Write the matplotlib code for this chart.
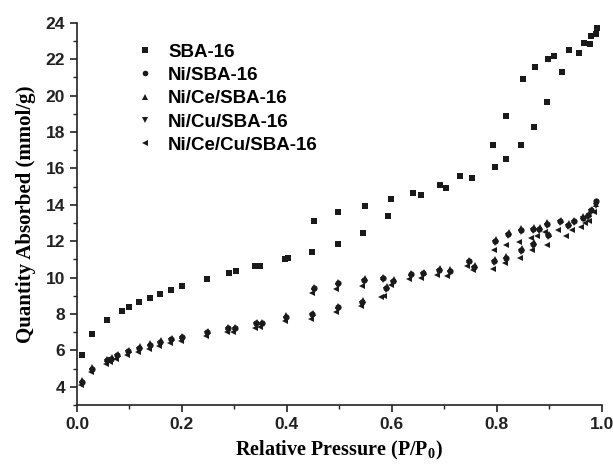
import numpy as np
import matplotlib.pyplot as plt
from matplotlib.ticker import MultipleLocator, FormatStrFormatter

# SBA-16 (adsorption then desorption branch)
sba_p = [0.009, 0.029, 0.058, 0.086, 0.099, 0.119, 0.139, 0.159, 0.180, 0.200,
         0.248, 0.290, 0.303, 0.340, 0.349, 0.397, 0.448, 0.497, 0.546, 0.592,
         0.655, 0.703, 0.753, 0.796, 0.818, 0.846, 0.870, 0.895, 0.924, 0.956,
         0.977, 0.989,
         0.991, 0.979, 0.966, 0.938, 0.910, 0.898, 0.872, 0.850, 0.817, 0.793,
         0.730, 0.691, 0.641, 0.599, 0.548, 0.497, 0.451, 0.403]
sba_q = [5.73, 6.88, 7.66, 8.17, 8.37, 8.64, 8.90, 9.12, 9.34, 9.52,
         9.92, 10.25, 10.34, 10.65, 10.65, 11.01, 11.41, 11.85, 12.43, 13.40,
         14.55, 14.93, 15.45, 16.08, 16.53, 17.31, 18.28, 19.65, 21.30, 22.36,
         22.83, 23.40,
         23.70, 23.27, 22.90, 22.50, 22.20, 22.03, 21.60, 20.92, 18.90, 17.31,
         15.58, 15.09, 14.63, 14.33, 13.96, 13.60, 13.09, 11.10]

# Ni/SBA-16
ni_p = [0.009, 0.029, 0.058, 0.064, 0.077, 0.098, 0.119, 0.139, 0.159, 0.180,
        0.200, 0.248, 0.287, 0.301, 0.342, 0.352, 0.398, 0.448, 0.497, 0.544,
        0.589, 0.636, 0.690, 0.747, 0.795, 0.817, 0.847, 0.869, 0.898, 0.936,
        0.964, 0.980,
        0.989, 0.974, 0.947, 0.921, 0.895, 0.881, 0.869, 0.846, 0.822, 0.797,
        0.757, 0.710, 0.660, 0.603, 0.583, 0.547, 0.497, 0.451]
ni_q = [4.27, 5.00, 5.46, 5.55, 5.73, 5.95, 6.13, 6.31, 6.46, 6.60,
        6.72, 7.00, 7.22, 7.22, 7.48, 7.48, 7.84, 8.00, 8.36, 8.68,
        9.45, 10.17, 10.41, 10.90, 10.90, 11.09, 11.50, 11.87, 12.32, 12.90,
        13.30, 13.69,
        14.23, 13.42, 13.09, 13.09, 12.96, 12.69, 12.69, 12.60, 12.41, 12.00,
        10.60, 10.36, 10.23, 9.81, 9.96, 9.86, 9.68, 9.41]

# Ni/Ce/SBA-16
ce_p = [0.009, 0.029, 0.058, 0.066, 0.078, 0.099, 0.120, 0.140, 0.160, 0.181,
        0.201, 0.249, 0.288, 0.302, 0.343, 0.353, 0.399, 0.449, 0.498, 0.545,
        0.590, 0.637, 0.691, 0.748, 0.796, 0.818, 0.848, 0.870, 0.899, 0.937,
        0.965, 0.981,
        0.990, 0.975, 0.948, 0.922, 0.896, 0.882, 0.870, 0.847, 0.823, 0.798,
        0.758, 0.711, 0.661, 0.604, 0.584, 0.548, 0.498, 0.452]
ce_q = [4.35, 5.08, 5.55, 5.62, 5.82, 6.04, 6.22, 6.40, 6.55, 6.68,
        6.80, 7.08, 7.30, 7.30, 7.56, 7.56, 7.92, 8.08, 8.44, 8.76,
        9.55, 10.25, 10.50, 10.98, 11.00, 11.18, 11.60, 11.96, 12.40, 13.00,
        13.38, 13.78,
        14.05, 13.50, 13.18, 13.18, 13.05, 12.78, 12.78, 12.70, 12.50, 12.10,
        10.70, 10.45, 10.32, 9.90, 10.05, 9.95, 9.77, 9.50]

# Ni/Cu/SBA-16
cu_p = [0.009, 0.029, 0.057, 0.065, 0.077, 0.098, 0.119, 0.139, 0.159, 0.180,
        0.200, 0.248, 0.287, 0.301, 0.342, 0.352, 0.398, 0.448, 0.497, 0.544,
        0.589, 0.636, 0.690, 0.747, 0.795, 0.817, 0.847, 0.869, 0.898, 0.936,
        0.964, 0.980,
        0.989, 0.974, 0.947, 0.921, 0.895, 0.881, 0.869, 0.846, 0.822, 0.797,
        0.757, 0.710, 0.660, 0.603, 0.583, 0.547, 0.497, 0.451]
cu_q = [4.15, 4.88, 5.35, 5.45, 5.62, 5.85, 6.02, 6.20, 6.35, 6.50,
        6.62, 6.90, 7.12, 7.12, 7.38, 7.38, 7.72, 7.88, 8.24, 8.55,
        9.30, 10.05, 10.30, 10.80, 10.80, 10.98, 11.38, 11.76, 12.22, 12.80,
        13.20, 13.58,
        13.95, 13.30, 12.98, 12.98, 12.85, 12.58, 12.58, 12.48, 12.28, 11.88,
        10.48, 10.25, 10.12, 9.70, 9.85, 9.74, 9.56, 9.28]

# Ni/Ce/Cu/SBA-16
cecu_p = [0.007, 0.027, 0.055, 0.062, 0.075, 0.096, 0.117, 0.137, 0.157, 0.178,
          0.198, 0.246, 0.285, 0.298, 0.339, 0.349, 0.396, 0.446, 0.494, 0.541,
          0.586, 0.633, 0.687, 0.744, 0.793, 0.815, 0.845, 0.867, 0.896, 0.932,
          0.960, 0.976,
          0.985, 0.968, 0.943, 0.917, 0.891, 0.877, 0.865, 0.843, 0.818, 0.794,
          0.755, 0.706, 0.655, 0.598, 0.580, 0.544, 0.494, 0.448]
cecu_q = [4.10, 4.80, 5.25, 5.35, 5.50, 5.75, 5.92, 6.10, 6.25, 6.40,
          6.52, 6.78, 7.00, 7.02, 7.25, 7.28, 7.60, 7.75, 8.10, 8.45,
          9.00, 9.92, 10.15, 10.62, 10.45, 10.80, 11.10, 11.50, 11.77, 12.30,
          12.80, 13.10,
          13.60, 13.00, 12.62, 12.60, 12.50, 12.30, 12.20, 11.95, 11.77, 11.50,
          10.40, 10.10, 9.98, 9.60, 8.95, 9.55, 9.35, 9.15]

series = [
    ("SBA-16", sba_p, sba_q, "s", 4.5),
    ("Ni/SBA-16", ni_p, ni_q, "o", 4.5),
    ("Ni/Ce/SBA-16", ce_p, ce_q, "^", 5),
    ("Ni/Cu/SBA-16", cu_p, cu_q, "v", 5),
    ("Ni/Ce/Cu/SBA-16", cecu_p, cecu_q, "<", 5),
]

plt.rcParams["font.family"] = "Liberation Sans"
plt.rcParams["font.weight"] = "bold"
plt.rcParams["mathtext.fontset"] = "custom"
plt.rcParams["mathtext.rm"] = "Liberation Serif:bold"
plt.rcParams["mathtext.bf"] = "Liberation Serif:bold"

fig = plt.figure(figsize=(6.13, 4.66), dpi=100)
ax = fig.add_axes([0.1256, 0.131, 0.856, 0.82])

for name, p, q, m, ms in series:
    ax.plot(p, q, linestyle="none", marker=m, markersize=ms, color="#1a1a1a",
            markeredgewidth=0, label=name)

ax.set_xlim(0, 1.0)
ax.set_ylim(3, 24)
ax.xaxis.set_major_locator(MultipleLocator(0.2))
ax.xaxis.set_minor_locator(MultipleLocator(0.1))
ax.xaxis.set_major_formatter(FormatStrFormatter("%.1f"))
ax.yaxis.set_major_locator(MultipleLocator(2))
ax.yaxis.set_minor_locator(MultipleLocator(1))

for s in ["top", "right"]:
    ax.spines[s].set_visible(False)
for s in ["left", "bottom"]:
    ax.spines[s].set_linewidth(1.2)
    ax.spines[s].set_color("#222222")

ax.tick_params(which="major", direction="out", length=5, width=1.2,
               colors="#222222", labelsize=12.5)
ax.tick_params(which="minor", direction="out", length=3, width=1.0, colors="#222222")

ax.set_xlabel("Relative Pressure (P/P$_\\mathbf{0}$)", fontfamily="Liberation Serif",
              fontweight="bold", fontsize=14.5, labelpad=5)
ax.set_ylabel("Quantity Absorbed (mmol/g)", fontfamily="Liberation Serif",
              fontweight="bold", fontsize=15, labelpad=7)

leg = ax.legend(loc="upper left", bbox_to_anchor=(0.07, 0.99), frameon=False,
                prop={"family": "Liberation Sans", "weight": "bold", "size": 13.5},
                handletextpad=0.5, labelspacing=0.33, markerscale=0.9,
                handlelength=1.5)

fig.savefig("out.png", dpi=100)
